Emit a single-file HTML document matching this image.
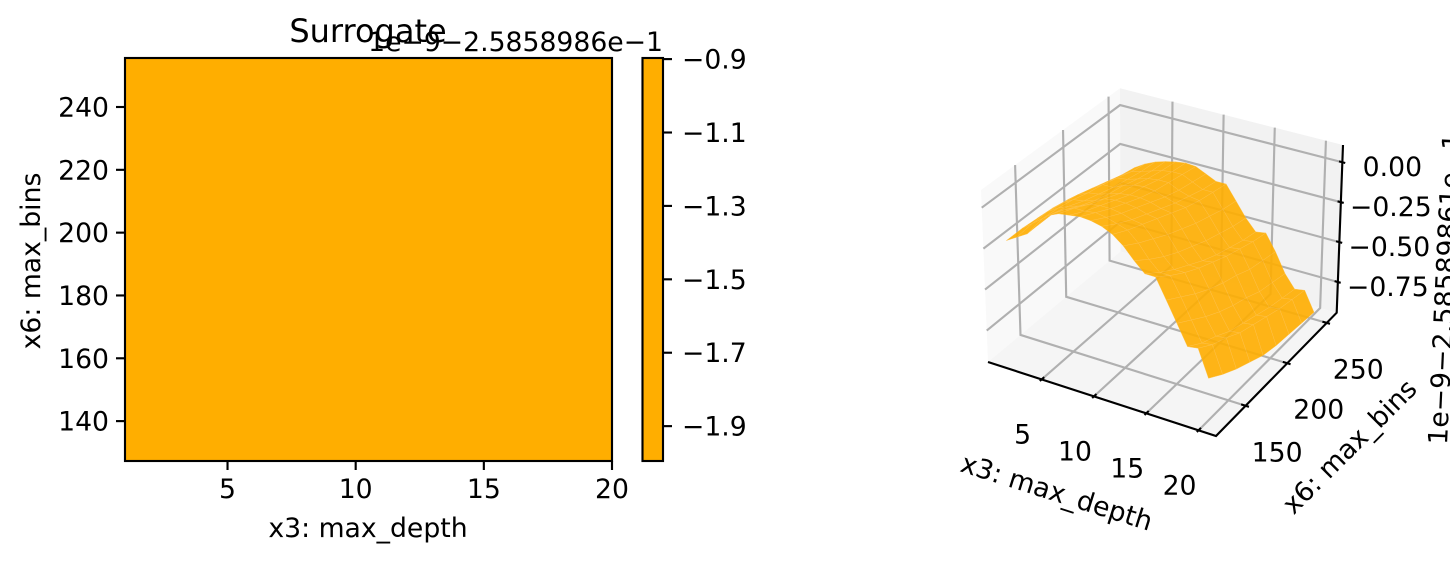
<!DOCTYPE html>
<html lang="en">
<head>
<meta charset="utf-8">
<title>Surrogate</title>
<style>
html,body{margin:0;padding:0;background:#fff;width:1450px;height:562px;overflow:hidden}
svg{display:block}
text{font-family:"DejaVu Sans","Liberation Sans",sans-serif;font-size:26.67px;fill:#000}
</style>
</head>
<body>
<svg id="chart" xmlns="http://www.w3.org/2000/svg" width="1450" height="562" viewBox="0 0 1450 562">
  <text x="368" y="42" text-anchor="middle" style="font-size:32px">Surrogate</text>
  <text x="663" y="51" text-anchor="end">1e−9−2.5858986e−1</text>
  <text x="368" y="537" text-anchor="middle">x3: max_depth</text>
  <text x="0" y="0" text-anchor="middle" transform="translate(40,261) rotate(-90)">x6: max_bins</text>
  <text x="0" y="0" text-anchor="middle" transform="translate(1054,501) rotate(17.5)">x3: max_depth</text>
  <text x="0" y="0" text-anchor="middle" transform="translate(1356,453) rotate(-45)">x6: max_bins</text>
  <text x="0" y="0" text-anchor="start" transform="translate(1447,445) rotate(-87.3)">1e−9−2.58589861e−1</text>
</svg>
<script>
// Heatmap axis data
const heatmapXTicks = [5, 10, 15, 20];
const heatmapYTicks = [140, 160, 180, 200, 220, 240];
const colorbarTicks = [-0.9, -1.1, -1.3, -1.5, -1.7, -1.9];
const colorbarTickLabels = ['−0.9', '−1.1', '−1.3', '−1.5', '−1.7', '−1.9'];

// Surface axis data
const surfaceXTicks = [5, 10, 15, 20];
const surfaceYTicks = [150, 200, 250];
const surfaceZTicks = [0, -0.25, -0.5, -0.75];
const surfaceZTickLabels = ['0.00', '−0.25', '−0.50', '−0.75'];

// Surface values: one row per depth (x3), one entry per max_bins value (x6)
const depthValues = [1, 2, 3, 4, 5, 6, 7, 8, 9, 10, 11, 12, 13, 14, 15, 16, 17, 18, 19, 20];
const binValues = [127, 143, 159, 175, 191, 207, 223, 239, 255];
const surfaceValues = [
  [-0.23, -0.23, -0.24, -0.25, -0.27, -0.30, -0.33, -0.36, -0.40],
  [-0.19, -0.18, -0.18, -0.20, -0.22, -0.25, -0.28, -0.31, -0.33],
  [-0.15, -0.13, -0.14, -0.16, -0.19, -0.21, -0.24, -0.27, -0.29],
  [-0.08, -0.08, -0.11, -0.15, -0.18, -0.21, -0.23, -0.25, -0.26],
  [0.00, -0.04, -0.09, -0.13, -0.16, -0.18, -0.21, -0.23, -0.24],
  [0.03, -0.01, -0.06, -0.10, -0.14, -0.16, -0.19, -0.21, -0.225],
  [0.04, -0.01, -0.05, -0.09, -0.13, -0.15, -0.18, -0.20, -0.215],
  [0.05, 0.00, -0.05, -0.09, -0.13, -0.16, -0.18, -0.20, -0.22],
  [0.045, -0.01, -0.06, -0.10, -0.14, -0.18, -0.21, -0.23, -0.25],
  [0.03, -0.03, -0.08, -0.12, -0.16, -0.20, -0.23, -0.26, -0.28],
  [0.00, -0.05, -0.09, -0.13, -0.17, -0.21, -0.24, -0.26, -0.28],
  [-0.05, -0.11, -0.16, -0.21, -0.25, -0.29, -0.32, -0.35, -0.37],
  [-0.12, -0.19, -0.25, -0.30, -0.34, -0.38, -0.41, -0.44, -0.46],
  [-0.18, -0.25, -0.31, -0.36, -0.41, -0.45, -0.48, -0.51, -0.53],
  [-0.18, -0.25, -0.31, -0.36, -0.40, -0.44, -0.47, -0.50, -0.52],
  [-0.30, -0.36, -0.42, -0.47, -0.51, -0.54, -0.58, -0.60, -0.62],
  [-0.42, -0.48, -0.54, -0.59, -0.63, -0.66, -0.70, -0.72, -0.74],
  [-0.54, -0.60, -0.64, -0.69, -0.72, -0.75, -0.78, -0.80, -0.82],
  [-0.53, -0.59, -0.63, -0.68, -0.71, -0.74, -0.77, -0.79, -0.81],
  [-0.69, -0.75, -0.80, -0.84, -0.88, -0.90, -0.91, -0.92, -0.93]
];

const svg = document.getElementById('chart');
const NS = 'http://www.w3.org/2000/svg';
const firstText = svg.firstElementChild;
const AMBER = '#ffae00';

function make(tag, geom) {
  const el = document.createElementNS(NS, tag);
  for (const k in geom) el.setAttribute(k, geom[k]);
  svg.insertBefore(el, firstText);
  return el;
}
function linear(d0, d1, r0, r1) {
  return function (v) { return r0 + (v - d0) / (d1 - d0) * (r1 - r0); };
}
const ink = { stroke: '#000', 'stroke-width': 2.13, fill: 'none' };
function tickLine(x1, y1, x2, y2) {
  return make('line', Object.assign({ x1: x1, y1: y1, x2: x2, y2: y2 }, ink));
}
function label(x, y, str, anchor) {
  const el = make('text', { x: x, y: y, 'text-anchor': anchor });
  el.textContent = str;
  return el;
}

/* ---------- heatmap ---------- */
const hx = linear(1, 20, 125, 612);
const hy = linear(127.3, 255.6, 461, 58);
const heatmap = make('rect', { x: hx(1), y: hy(255.6), width: hx(20) - hx(1), height: hy(127.3) - hy(255.6), fill: AMBER, stroke: '#000', 'stroke-width': 2.13 });



heatmapXTicks.forEach(function (t) {
  const tick = tickLine(hx(t), 461, hx(t), 470);
  
  
  const text = label(hx(t), 498, String(t), 'middle');
  
  
});
heatmapYTicks.forEach(function (t) {
  const tick = tickLine(116, hy(t), 125, hy(t));
  
  
  const text = label(109, hy(t) + 9.5, String(t), 'end');
  
  
});

/* ---------- colorbar ---------- */
const cy = linear(-1.995, -0.897, 461, 58);
const colorbar = make('rect', { x: 642.5, y: 58, width: 20.5, height: 403, fill: AMBER, stroke: '#000', 'stroke-width': 2.13 });


colorbarTicks.forEach(function (t, i) {
  const tick = tickLine(663, cy(t), 672, cy(t));
  
  
  const text = label(682, cy(t) + 9.5, colorbarTickLabels[i], 'start');
  
  
});

/* ---------- 3D axes ---------- */
const corners = {
  c000: [988, 362], c100: [1216, 436], c110: [1336.7, 312.7], c010: [1120.5, 251.5],
  c001: [981, 190], c101: [1217, 259], c111: [1343, 145], c011: [1120, 88.3]
};
function cube(u, v, w) {
  const out = [0, 0];
  for (let i = 0; i < 2; i++) {
    const a = corners.c000[i] * (1 - u) + corners.c100[i] * u;
    const b = corners.c010[i] * (1 - u) + corners.c110[i] * u;
    const c = corners.c001[i] * (1 - u) + corners.c101[i] * u;
    const d = corners.c011[i] * (1 - u) + corners.c111[i] * u;
    const lo = a * (1 - v) + b * v;
    const hi = c * (1 - v) + d * v;
    out[i] = lo * (1 - w) + hi * w;
  }
  return out;
}
const xToU = linear(-0.13, 21.67, 0, 1);
function yToV(y) {
  const n = (y - 116) / 147;
  return n * 1.08 / (1 + 0.08 * n);
}
const zToW = linear(-0.942, 0.108, 0, 1);
function project(x, y, z) { return cube(xToU(x), yToV(y), zToW(z)); }
function pts(list) { return list.map(function (p) { return p[0].toFixed(2) + ',' + p[1].toFixed(2); }).join(' '); }

const paneLeft = make('polygon', { points: pts([corners.c000, corners.c010, corners.c011, corners.c001]), fill: '#f9f9f9' });


const paneBack = make('polygon', { points: pts([corners.c010, corners.c110, corners.c111, corners.c011]), fill: '#f2f2f2' });


const paneFloor = make('polygon', { points: pts([corners.c000, corners.c100, corners.c110, corners.c010]), fill: '#f5f5f5' });



const gridStyle = { stroke: '#b0b0b0', 'stroke-width': 2.13, fill: 'none' };
surfaceXTicks.forEach(function (t) {
  const u = xToU(t);
  const line = make('polyline', Object.assign({ points: pts([cube(u, 0, 0), cube(u, 1, 0), cube(u, 1, 1)]) }, gridStyle));
  
  
});
surfaceYTicks.forEach(function (t) {
  const v = yToV(t);
  const line = make('polyline', Object.assign({ points: pts([cube(1, v, 0), cube(0, v, 0), cube(0, v, 1)]) }, gridStyle));
  
  
});
surfaceZTicks.forEach(function (t) {
  const w = zToW(t);
  const line = make('polyline', Object.assign({ points: pts([cube(0, 0, w), cube(0, 1, w), cube(1, 1, w)]) }, gridStyle));
  
  
});

/* ---------- surface, drawn far to near ---------- */
const surface = document.createElementNS(NS, 'g');


surface.setAttribute('opacity', '0.9');
svg.insertBefore(surface, firstText);
for (let j = binValues.length - 2; j >= 0; j--) {
  for (let i = 0; i < depthValues.length - 1; i++) {
    const cell = document.createElementNS(NS, 'polygon');
    cell.setAttribute('points', pts([
      project(depthValues[i], binValues[j], surfaceValues[i][j]),
      project(depthValues[i + 1], binValues[j], surfaceValues[i + 1][j]),
      project(depthValues[i + 1], binValues[j + 1], surfaceValues[i + 1][j + 1]),
      project(depthValues[i], binValues[j + 1], surfaceValues[i][j + 1])
    ]));
    cell.setAttribute('fill', AMBER);
    cell.setAttribute('stroke', '#ffbb38');
    cell.setAttribute('stroke-width', '0.4');
    
    
    surface.appendChild(cell);
  }
}

/* ---------- 3D axis lines, ticks and labels ---------- */
const axisPath = make('polyline', Object.assign({ points: pts([corners.c000, corners.c100, corners.c110, corners.c111]) }, ink));



surfaceXTicks.forEach(function (t) {
  const u = xToU(t);
  const a = cube(u, -0.014, 0);
  const b = cube(u, 0.02, 0);
  const tick = tickLine(a[0], a[1], b[0], b[1]);
  
  
  const p = cube(u, 0, 0);
  const text = label(p[0] - 19, p[1] + 64, String(t), 'middle');
  
  
});
surfaceYTicks.forEach(function (t) {
  const v = yToV(t);
  const a = cube(0.98, v, 0);
  const b = cube(1.015, v, 0);
  const tick = tickLine(a[0], a[1], b[0], b[1]);
  
  
  const p = cube(1, v, 0);
  const text = label(p[0] + 31.5, p[1] + 55.5, String(t), 'middle');
  
  
});
surfaceZTicks.forEach(function (t, i) {
  const w = zToW(t);
  const a = cube(0.985, 1, w);
  const b = cube(1.013, 1, w);
  const tick = tickLine(a[0], a[1], b[0], b[1]);
  
  
  const p = cube(1, 1, w);
  const text = label(p[0] + 50, p[1] + 14, surfaceZTickLabels[i], 'middle');
  
  
});
</script>
</body>
</html>
